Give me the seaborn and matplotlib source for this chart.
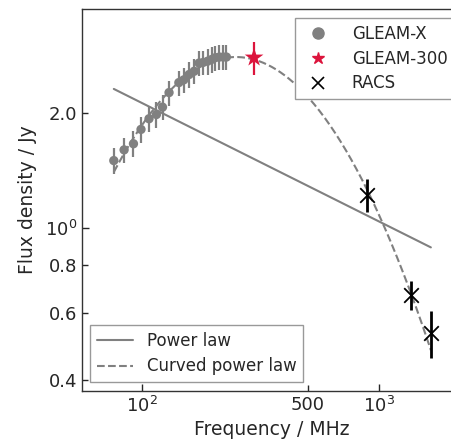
import matplotlib
matplotlib.use("Agg")
import matplotlib.pyplot as plt
from matplotlib.lines import Line2D
from matplotlib import ticker
import numpy as np
import pandas as pd
import seaborn as sns


# GLEAM-X sub-band measurements (MHz, Jy)
gleamx_freq = [76, 84, 92, 99, 107, 115, 122, 130, 143, 150,
               158, 166, 174, 181, 189, 197, 204, 212, 220, 227]
gleamx_flux = [1.50, 1.60, 1.66, 1.81, 1.93, 1.98, 2.07, 2.26, 2.40, 2.44,
               2.52, 2.57, 2.70, 2.71, 2.73, 2.76, 2.79, 2.80, 2.80, 2.80]
gleamx_err = [0.12, 0.12, 0.13, 0.14, 0.15, 0.15, 0.16, 0.17, 0.18, 0.18,
              0.19, 0.19, 0.20, 0.20, 0.21, 0.21, 0.21, 0.21, 0.21, 0.21]

# GLEAM-300
g300_freq = [297]
g300_flux = [2.79]
g300_err = [0.28]

# RACS low / mid / high
racs_freq = [887.5, 1367.5, 1655.5]
racs_flux = [1.22, 0.669, 0.531]
racs_err = [0.12, 0.058, 0.075]

# fitted models
pl_norm, pl_nu0, pl_alpha = 2.31, 76.0, -0.31
cpl_peak_flux, cpl_peak_freq, cpl_curv = 2.80, 249.0, 1.134
model_freq_range = (76, 1655)

GREY = "grey"
RED = "#DC143C"


def power_law(nu):
    return pl_norm * (nu / pl_nu0) ** pl_alpha


def curved_power_law(nu):
    u = np.log10(nu) - np.log10(cpl_peak_freq)
    return cpl_peak_flux * 10 ** (-cpl_curv * u ** 2)


def main() -> None:
    sns.set_style("ticks")
    plt.rcParams["font.family"] = ["DejaVu Sans"]

    fig = plt.figure(figsize=(4.52, 4.40), dpi=100)
    ax = fig.add_axes([82 / 452, 1 - 391 / 440, (461 - 82) / 452, (391 - 9) / 440])

    nu = np.logspace(np.log10(model_freq_range[0]), np.log10(model_freq_range[1]), 300)
    models = pd.DataFrame({"nu": nu, "pl": power_law(nu), "cpl": curved_power_law(nu)})
    sns.lineplot(data=models, x="nu", y="pl", ax=ax, color=GREY, lw=1.5, zorder=2)
    sns.lineplot(data=models, x="nu", y="cpl", ax=ax, color=GREY, lw=1.5,
                 linestyle="--", zorder=2)

    ax.errorbar(gleamx_freq, gleamx_flux, yerr=gleamx_err, fmt="none",
                ecolor=GREY, elinewidth=1.6, zorder=3)
    sns.scatterplot(x=gleamx_freq, y=gleamx_flux, ax=ax, color=GREY, s=45,
                    edgecolor="none", zorder=4)

    ax.errorbar(g300_freq, g300_flux, yerr=g300_err, fmt="none",
                ecolor=RED, elinewidth=1.6, zorder=3)
    sns.scatterplot(x=g300_freq, y=g300_flux, ax=ax, color=RED, marker="*",
                    s=200, edgecolor="none", zorder=4)

    ax.errorbar(racs_freq, racs_flux, yerr=racs_err, fmt="none",
                ecolor="black", elinewidth=2.0, zorder=3)
    sns.scatterplot(x=racs_freq, y=racs_flux, ax=ax, color="black", marker="x",
                    s=110, linewidth=1.3, zorder=4)

    ax.set_xscale("log")
    ax.set_yscale("log")
    ax.set_xlim(55.8, 2218)
    ax.set_ylim(0.374, 3.74)

    ax.xaxis.set_major_locator(ticker.FixedLocator([100, 1000]))
    ax.xaxis.set_minor_locator(ticker.FixedLocator([500]))
    ax.xaxis.set_minor_formatter(ticker.FixedFormatter(["500"]))
    ax.yaxis.set_major_locator(ticker.FixedLocator([1.0]))
    ax.yaxis.set_minor_locator(ticker.FixedLocator([0.4, 0.6, 0.8, 2.0]))
    ax.yaxis.set_minor_formatter(ticker.FixedFormatter(["0.4", "0.6", "0.8", "2.0"]))

    ax.tick_params(which="both", direction="in", labelsize=13)
    ax.tick_params(which="major", length=5, width=1)
    ax.tick_params(which="minor", length=4, width=1)
    for sp in ax.spines.values():
        sp.set_color("#333333")
        sp.set_linewidth(1.0)

    ax.set_xlabel("Frequency / MHz", fontsize=13.5, labelpad=3)
    ax.set_ylabel("Flux density / Jy", fontsize=13.5, labelpad=6)

    data_handles = [
        Line2D([], [], color=GREY, marker="o", ls="none", markersize=8),
        Line2D([], [], color=RED, marker="*", ls="none", markersize=9),
        Line2D([], [], color="black", marker="x", ls="none", markersize=9, mew=1.2),
    ]
    leg1 = ax.legend(data_handles, ["GLEAM-X", "GLEAM-300", "RACS"],
                     loc="upper left", bbox_to_anchor=(295 / 452, 1 - 18.5 / 440),
                     bbox_transform=fig.transFigure, borderaxespad=0,
                     fontsize=12, fancybox=False, framealpha=1,
                     edgecolor="#999999", labelspacing=0.4, handletextpad=1.0)
    ax.add_artist(leg1)

    model_handles = [
        Line2D([], [], color=GREY, lw=1.5),
        Line2D([], [], color=GREY, lw=1.5, ls="--"),
    ]
    ax.legend(model_handles, ["Power law", "Curved power law"],
              loc="lower left", bbox_to_anchor=(90 / 452, 1 - 382 / 440),
              bbox_transform=fig.transFigure, borderaxespad=0,
              fontsize=12, fancybox=False, framealpha=1,
              edgecolor="#999999", labelspacing=0.45, handlelength=2.2)

    fig.savefig("out.png", dpi=100)
    plt.close(fig)


if __name__ == "__main__":
    main()
